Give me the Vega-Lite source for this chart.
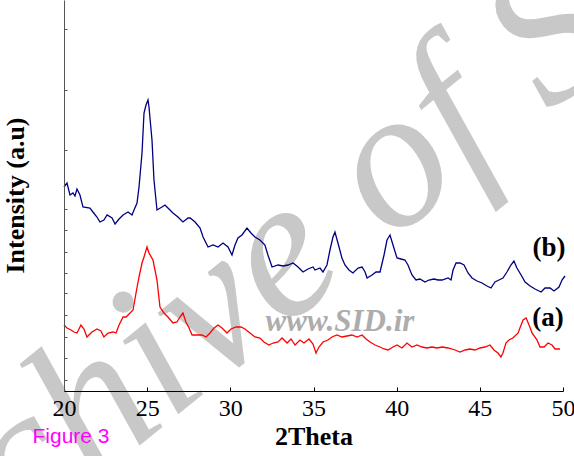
{
  "$schema": "https://vega.github.io/schema/vega-lite/v6.json",
  "width": 499,
  "height": 391,
  "autosize": "none",
  "padding": {"left": 64, "top": 0, "right": 11, "bottom": 65},
  "background": "white",
  "config": {"view": {"stroke": null}, "axis": {"grid": false}},
  "encoding": {
    "x": {
      "field": "t", "type": "quantitative",
      "scale": {"domain": [20, 50], "nice": false, "zero": false},
      "axis": {
        "title": "2Theta", "values": [20, 25, 30, 35, 40, 45, 50], "zindex": 1,
        "labelFont": "Liberation Serif", "labelFontSize": 24, "labelColor": "black",
        "labelPadding": 9, "labelFlush": false,
        "tickSize": -4, "tickColor": "black", "domainColor": "black",
        "titleFont": "Liberation Serif", "titleFontSize": 26, "titleFontWeight": "bold",
        "titleColor": "black", "titlePadding": 3
      }
    },
    "y": {
      "field": "i", "type": "quantitative",
      "scale": {"domain": [0, 391], "nice": false, "zero": false},
      "axis": {
        "title": "Intensity (a.u)", "labels": false, "zindex": 1,
        "values": [11, 33, 54, 76, 98, 118, 139, 161, 182, 241, 301, 362],
        "tickSize": -3, "tickColor": "#555", "domainColor": "#555",
        "titleFont": "Liberation Serif", "titleFontSize": 26, "titleFontWeight": "bold",
        "titleColor": "black", "titleAngle": -90, "titleBaseline": "middle",
        "titleAlign": "center", "titleX": -49, "titleY": 195
      }
    }
  },
  "layer": [
    {
      "data": {"values": [{"t": 33.85, "i": 148, "label": "Archive of SID"}]},
      "mark": {"type": "text", "font": "Liberation Serif", "fontStyle": "italic", "fontSize": 200, "angle": -39, "align": "center", "baseline": "middle", "color": "#C8C8C8"},
      "encoding": {"text": {"field": "label"}}
    },
    {
      "data": {"values": [{"t": 36.59, "i": 69, "label": "www.SID.ir"}]},
      "mark": {"type": "text", "font": "Liberation Serif", "fontStyle": "italic", "fontWeight": "bold", "fontSize": 31, "align": "center", "baseline": "middle", "color": "#ADADAD"},
      "encoding": {"text": {"field": "label"}}
    },
    {
      "data": {"values": [
        {"s":"b","t":20.00,"i":204},{"s":"b","t":20.18,"i":208},{"s":"b","t":20.36,"i":196},{"s":"b","t":20.54,"i":198},{"s":"b","t":20.66,"i":195},{"s":"b","t":20.78,"i":202},{"s":"b","t":20.96,"i":196},{"s":"b","t":21.14,"i":184},{"s":"b","t":21.56,"i":183},{"s":"b","t":21.74,"i":179},{"s":"b","t":21.98,"i":174},{"s":"b","t":22.16,"i":169},{"s":"b","t":22.40,"i":171},{"s":"b","t":22.59,"i":176},{"s":"b","t":22.89,"i":173},{"s":"b","t":23.07,"i":167},{"s":"b","t":23.31,"i":172},{"s":"b","t":23.55,"i":176},{"s":"b","t":23.85,"i":179},{"s":"b","t":24.09,"i":176},{"s":"b","t":24.21,"i":181},{"s":"b","t":24.39,"i":188},{"s":"b","t":24.51,"i":204},{"s":"b","t":24.69,"i":238},{"s":"b","t":24.81,"i":278},{"s":"b","t":24.93,"i":286},{"s":"b","t":25.05,"i":291},{"s":"b","t":25.11,"i":284},{"s":"b","t":25.29,"i":251},{"s":"b","t":25.41,"i":211},{"s":"b","t":25.59,"i":181},{"s":"b","t":25.89,"i":184},{"s":"b","t":26.07,"i":186},{"s":"b","t":26.25,"i":183},{"s":"b","t":26.55,"i":178},{"s":"b","t":26.85,"i":174},{"s":"b","t":27.15,"i":169},{"s":"b","t":27.46,"i":173},{"s":"b","t":27.58,"i":173},{"s":"b","t":27.88,"i":169},{"s":"b","t":28.18,"i":163},{"s":"b","t":28.36,"i":154},{"s":"b","t":28.66,"i":144},{"s":"b","t":28.96,"i":146},{"s":"b","t":29.26,"i":144},{"s":"b","t":29.56,"i":148},{"s":"b","t":29.86,"i":144},{"s":"b","t":30.10,"i":136},{"s":"b","t":30.28,"i":146},{"s":"b","t":30.46,"i":153},{"s":"b","t":30.70,"i":156},{"s":"b","t":31.00,"i":163},{"s":"b","t":31.24,"i":158},{"s":"b","t":31.48,"i":154},{"s":"b","t":31.78,"i":151},{"s":"b","t":32.08,"i":146},{"s":"b","t":32.26,"i":136},{"s":"b","t":32.51,"i":124},{"s":"b","t":32.87,"i":126},{"s":"b","t":33.17,"i":125},{"s":"b","t":33.47,"i":126},{"s":"b","t":33.77,"i":128},{"s":"b","t":34.07,"i":124},{"s":"b","t":34.37,"i":119},{"s":"b","t":34.67,"i":122},{"s":"b","t":34.97,"i":124},{"s":"b","t":35.09,"i":121},{"s":"b","t":35.39,"i":123},{"s":"b","t":35.57,"i":119},{"s":"b","t":35.81,"i":126},{"s":"b","t":35.99,"i":141},{"s":"b","t":36.17,"i":154},{"s":"b","t":36.29,"i":159},{"s":"b","t":36.47,"i":148},{"s":"b","t":36.71,"i":133},{"s":"b","t":36.89,"i":126},{"s":"b","t":37.13,"i":121},{"s":"b","t":37.37,"i":118},{"s":"b","t":37.68,"i":123},{"s":"b","t":37.92,"i":124},{"s":"b","t":38.10,"i":119},{"s":"b","t":38.22,"i":113},{"s":"b","t":38.52,"i":116},{"s":"b","t":38.76,"i":119},{"s":"b","t":39.00,"i":119},{"s":"b","t":39.24,"i":136},{"s":"b","t":39.42,"i":151},{"s":"b","t":39.60,"i":156},{"s":"b","t":39.78,"i":146},{"s":"b","t":40.02,"i":133},{"s":"b","t":40.26,"i":132},{"s":"b","t":40.50,"i":131},{"s":"b","t":40.68,"i":126},{"s":"b","t":40.92,"i":116},{"s":"b","t":41.16,"i":111},{"s":"b","t":41.40,"i":112},{"s":"b","t":41.70,"i":109},{"s":"b","t":41.94,"i":111},{"s":"b","t":42.24,"i":112},{"s":"b","t":42.49,"i":111},{"s":"b","t":42.73,"i":111},{"s":"b","t":43.09,"i":113},{"s":"b","t":43.27,"i":111},{"s":"b","t":43.39,"i":121},{"s":"b","t":43.57,"i":128},{"s":"b","t":43.81,"i":128},{"s":"b","t":44.05,"i":126},{"s":"b","t":44.29,"i":118},{"s":"b","t":44.53,"i":113},{"s":"b","t":44.83,"i":110},{"s":"b","t":45.13,"i":108},{"s":"b","t":45.43,"i":105},{"s":"b","t":45.67,"i":103},{"s":"b","t":45.91,"i":109},{"s":"b","t":46.15,"i":111},{"s":"b","t":46.39,"i":113},{"s":"b","t":46.63,"i":119},{"s":"b","t":46.87,"i":126},{"s":"b","t":47.05,"i":130},{"s":"b","t":47.23,"i":123},{"s":"b","t":47.48,"i":116},{"s":"b","t":47.72,"i":109},{"s":"b","t":48.02,"i":105},{"s":"b","t":48.32,"i":102},{"s":"b","t":48.68,"i":99},{"s":"b","t":48.92,"i":103},{"s":"b","t":49.22,"i":103},{"s":"b","t":49.46,"i":100},{"s":"b","t":49.76,"i":104},{"s":"b","t":49.94,"i":111},{"s":"b","t":50.12,"i":115},
        {"s":"a","t":20.00,"i":66},{"s":"a","t":20.18,"i":63},{"s":"a","t":20.42,"i":61},{"s":"a","t":20.60,"i":59},{"s":"a","t":20.78,"i":58},{"s":"a","t":21.02,"i":66},{"s":"a","t":21.20,"i":62},{"s":"a","t":21.38,"i":54},{"s":"a","t":21.68,"i":59},{"s":"a","t":21.98,"i":62},{"s":"a","t":22.22,"i":60},{"s":"a","t":22.40,"i":54},{"s":"a","t":22.65,"i":58},{"s":"a","t":22.95,"i":59},{"s":"a","t":23.13,"i":58},{"s":"a","t":23.31,"i":66},{"s":"a","t":23.55,"i":74},{"s":"a","t":23.73,"i":74},{"s":"a","t":23.97,"i":78},{"s":"a","t":24.15,"i":81},{"s":"a","t":24.33,"i":98},{"s":"a","t":24.51,"i":114},{"s":"a","t":24.69,"i":128},{"s":"a","t":24.81,"i":134},{"s":"a","t":24.99,"i":144},{"s":"a","t":25.11,"i":138},{"s":"a","t":25.35,"i":131},{"s":"a","t":25.59,"i":111},{"s":"a","t":25.77,"i":84},{"s":"a","t":26.01,"i":78},{"s":"a","t":26.25,"i":74},{"s":"a","t":26.55,"i":68},{"s":"a","t":26.79,"i":69},{"s":"a","t":26.97,"i":74},{"s":"a","t":27.15,"i":78},{"s":"a","t":27.33,"i":69},{"s":"a","t":27.52,"i":63},{"s":"a","t":27.70,"i":56},{"s":"a","t":28.00,"i":56},{"s":"a","t":28.30,"i":56},{"s":"a","t":28.54,"i":54},{"s":"a","t":28.78,"i":58},{"s":"a","t":29.02,"i":63},{"s":"a","t":29.26,"i":66},{"s":"a","t":29.50,"i":63},{"s":"a","t":29.80,"i":58},{"s":"a","t":30.04,"i":62},{"s":"a","t":30.34,"i":64},{"s":"a","t":30.64,"i":64},{"s":"a","t":30.88,"i":62},{"s":"a","t":31.18,"i":58},{"s":"a","t":31.48,"i":54},{"s":"a","t":31.78,"i":53},{"s":"a","t":32.02,"i":49},{"s":"a","t":32.32,"i":46},{"s":"a","t":32.57,"i":48},{"s":"a","t":32.87,"i":49},{"s":"a","t":33.11,"i":53},{"s":"a","t":33.41,"i":48},{"s":"a","t":33.65,"i":52},{"s":"a","t":33.89,"i":46},{"s":"a","t":34.19,"i":51},{"s":"a","t":34.43,"i":48},{"s":"a","t":34.73,"i":52},{"s":"a","t":34.97,"i":47},{"s":"a","t":35.15,"i":38},{"s":"a","t":35.33,"i":44},{"s":"a","t":35.57,"i":49},{"s":"a","t":35.87,"i":51},{"s":"a","t":36.11,"i":54},{"s":"a","t":36.41,"i":56},{"s":"a","t":36.71,"i":54},{"s":"a","t":37.01,"i":55},{"s":"a","t":37.31,"i":56},{"s":"a","t":37.62,"i":54},{"s":"a","t":37.92,"i":56},{"s":"a","t":38.16,"i":52},{"s":"a","t":38.40,"i":49},{"s":"a","t":38.70,"i":46},{"s":"a","t":39.00,"i":44},{"s":"a","t":39.24,"i":42},{"s":"a","t":39.48,"i":41},{"s":"a","t":39.78,"i":44},{"s":"a","t":40.02,"i":46},{"s":"a","t":40.32,"i":43},{"s":"a","t":40.62,"i":48},{"s":"a","t":40.92,"i":44},{"s":"a","t":41.22,"i":46},{"s":"a","t":41.52,"i":44},{"s":"a","t":41.82,"i":43},{"s":"a","t":42.12,"i":44},{"s":"a","t":42.43,"i":43},{"s":"a","t":42.73,"i":44},{"s":"a","t":43.09,"i":43},{"s":"a","t":43.51,"i":41},{"s":"a","t":43.81,"i":39},{"s":"a","t":44.11,"i":41},{"s":"a","t":44.41,"i":42},{"s":"a","t":44.71,"i":41},{"s":"a","t":45.01,"i":43},{"s":"a","t":45.31,"i":44},{"s":"a","t":45.61,"i":46},{"s":"a","t":45.85,"i":41},{"s":"a","t":46.09,"i":38},{"s":"a","t":46.27,"i":34},{"s":"a","t":46.39,"i":38},{"s":"a","t":46.57,"i":48},{"s":"a","t":46.75,"i":51},{"s":"a","t":46.99,"i":53},{"s":"a","t":47.30,"i":58},{"s":"a","t":47.48,"i":66},{"s":"a","t":47.60,"i":71},{"s":"a","t":47.78,"i":73},{"s":"a","t":47.96,"i":66},{"s":"a","t":48.14,"i":58},{"s":"a","t":48.44,"i":51},{"s":"a","t":48.62,"i":44},{"s":"a","t":48.86,"i":44},{"s":"a","t":49.10,"i":48},{"s":"a","t":49.34,"i":46},{"s":"a","t":49.52,"i":42},{"s":"a","t":49.82,"i":42}
      ]},
      "mark": {"type": "line", "strokeWidth": 1.3, "interpolate": "linear"},
      "encoding": {
        "color": {"field": "s", "type": "nominal", "scale": {"domain": ["a", "b"], "range": ["#FF0000", "#000080"]}, "legend": null}
      }
    },
    {
      "data": {"values": [{"t": 49.16, "i": 143, "label": "(b)"}, {"t": 49.10, "i": 73, "label": "(a)"}]},
      "mark": {"type": "text", "font": "Liberation Serif", "fontWeight": "bold", "fontSize": 27, "align": "center", "baseline": "middle", "color": "black"},
      "encoding": {"text": {"field": "label"}}
    },
    {
      "data": {"values": [{"t": 20.42, "i": -46, "label": "Figure 3"}]},
      "mark": {"type": "text", "font": "Liberation Sans", "fontSize": 21, "align": "center", "baseline": "middle", "color": "#FF00FF"},
      "encoding": {"text": {"field": "label"}}
    }
  ]
}
